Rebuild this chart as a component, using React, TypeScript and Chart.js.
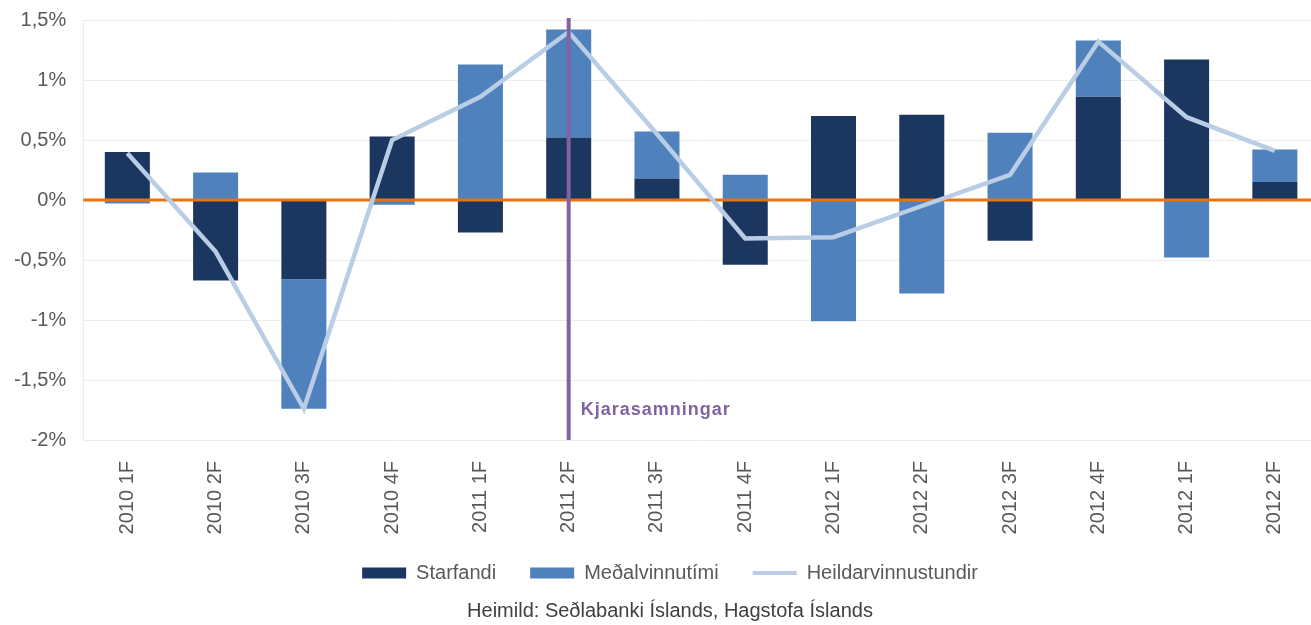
import React, { useEffect, useRef } from "react";
import { Chart, registerables } from "chart.js";

Chart.register(...registerables);

const categories = [
  "2010 1F", "2010 2F", "2010 3F", "2010 4F",
  "2011 1F", "2011 2F", "2011 3F", "2011 4F",
  "2012 1F", "2012 2F", "2012 3F", "2012 4F",
  "2012 1F", "2012 2F",
];
const starfandi = [0.4, -0.67, -0.66, 0.53, -0.27, 0.52, 0.18, -0.54, 0.7, 0.71, -0.34, 0.86, 1.17, 0.15];
const medalvinnutimi = [-0.03, 0.23, -1.08, -0.04, 1.13, 0.9, 0.39, 0.21, -1.01, -0.78, 0.56, 0.47, -0.48, 0.27];
const heildarvinnustundir = [0.39, -0.43, -1.74, 0.5, 0.86, 1.4, 0.55, -0.32, -0.31, -0.05, 0.21, 1.32, 0.69, 0.41];

const seriesNames = ["Starfandi", "Meðalvinnutími", "Heildarvinnustundir"];
const yTickValues = [-2, -1.5, -1, -0.5, 0, 0.5, 1, 1.5];
const yTickLabels = ["-2%", "-1,5%", "-1%", "-0,5%", "0%", "0,5%", "1%", "1,5%"];
const markerIndex = 5;
const markerLabel = "Kjarasamningar";
const sourceText = "Heimild: Seðlabanki Íslands, Hagstofa Íslands";

const FONT = "'Liberation Sans', Arial, sans-serif";
const DARK = "#1B3760";
const MID = "#4F81BD";
const LIGHT = "#B9CDE5";
const ORANGE = "#E8720C";
const PURPLE = "#8064A2";
const GRID = "#ECECEC";
const TEXT = "#595959";

const overlayPlugin = {
  id: "overlay",
  beforeDatasetDraw(chart: any, args: any) {
    if (args.index !== 2) return;
    const { ctx, chartArea, scales } = chart;
    const y = scales.y.getPixelForValue(0);
    ctx.save();
    ctx.strokeStyle = ORANGE;
    ctx.lineWidth = 3;
    ctx.beginPath();
    ctx.moveTo(chartArea.left, y);
    ctx.lineTo(chartArea.right, y);
    ctx.stroke();
    ctx.restore();
  },
  afterDatasetsDraw(chart: any) {
    const { ctx, chartArea, scales } = chart;
    const x = scales.x.getPixelForValue(markerIndex);
    ctx.save();
    ctx.strokeStyle = PURPLE;
    ctx.lineWidth = 4;
    ctx.beginPath();
    ctx.moveTo(x, chartArea.top - 2);
    ctx.lineTo(x, chartArea.bottom);
    ctx.stroke();
    ctx.fillStyle = PURPLE;
    ctx.font = `bold 18px ${FONT}`;
    try { (ctx as any).letterSpacing = "1px"; } catch (e) {}
    ctx.textAlign = "left";
    ctx.textBaseline = "middle";
    ctx.fillText(markerLabel, x + 12, chartArea.bottom - 30);
    ctx.restore();
  },
};

export default function App() {
  const ref = useRef<HTMLCanvasElement | null>(null);

  useEffect(() => {
    if (!ref.current) return;
    const chart = new Chart(ref.current, {
      type: "bar",
      data: {
        labels: categories,
        datasets: [
          {
            type: "bar",
            label: seriesNames[0],
            data: starfandi,
            backgroundColor: DARK,
            borderWidth: 0,
            stack: "bars",
            order: 2,
            categoryPercentage: 0.51,
            barPercentage: 1,
          },
          {
            type: "bar",
            label: seriesNames[1],
            data: medalvinnutimi,
            backgroundColor: MID,
            borderWidth: 0,
            stack: "bars",
            order: 2,
            categoryPercentage: 0.51,
            barPercentage: 1,
          },
          {
            type: "line",
            label: seriesNames[2],
            data: heildarvinnustundir,
            borderColor: LIGHT,
            backgroundColor: LIGHT,
            borderWidth: 4.5,
            pointRadius: 0,
            tension: 0,
            fill: false,
            stack: "line",
            order: 1,
          },
        ] as any,
      },
      options: {
        responsive: false,
        animation: false,
        layout: { padding: { top: 20, left: 21, right: 21, bottom: 0 } },
        scales: {
          x: {
            stacked: true,
            grid: { display: false, drawTicks: false },
            border: { display: false },
            ticks: {
              minRotation: 90,
              maxRotation: 90,
              padding: 21,
              color: TEXT,
              font: { family: FONT, size: 20 },
            },
            afterFit: (s: any) => {
              s.height = 89;
              s.paddingLeft = 0;
              s.paddingRight = 0;
              s._computeLabelArea = () => undefined;
            },
          },
          y: {
            stacked: true,
            min: -2,
            max: 1.5,
            grid: { color: GRID, lineWidth: 1, drawTicks: false },
            border: { display: true, color: GRID },
            afterBuildTicks: (s: any) => { s.ticks = yTickValues.map((v) => ({ value: v })); },
            ticks: {
              padding: 17,
              color: TEXT,
              font: { family: FONT, size: 20 },
              callback: (v: any) => {
                const i = yTickValues.findIndex((t) => Math.abs(t - Number(v)) < 1e-9);
                return i >= 0 ? yTickLabels[i] : "";
              },
            },
            afterFit: (s: any) => {
              s.width = 62.2;
              s.paddingTop = 0;
              s.paddingBottom = 0;
              s._computeLabelArea = () => undefined;
            },
          },
        },
        plugins: {
          tooltip: { enabled: false },
          legend: {
            position: "bottom",
            labels: {
              usePointStyle: true,
              pointStyleWidth: 44,
              boxWidth: 44,
              boxHeight: 11,
              padding: 34,
              color: TEXT,
              font: { family: FONT, size: 20 },
              generateLabels: (c: any) => {
                const base = (Chart.defaults as any).plugins.legend.labels.generateLabels(c);
                return base
                  .map((it: any) => {
                    const ds: any = c.data.datasets[it.datasetIndex];
                    if (ds.type === "line") {
                      return { ...it, pointStyle: "line", strokeStyle: LIGHT, fillStyle: LIGHT, lineWidth: 4 };
                    }
                    return { ...it, pointStyle: "rect", lineWidth: 0, strokeStyle: "rgba(0,0,0,0)" };
                  })
                  .sort((a: any, b: any) => a.datasetIndex - b.datasetIndex);
              },
            },
          },
          title: {
            display: true,
            text: sourceText,
            position: "bottom",
            color: "#404040",
            font: { family: FONT, size: 20, weight: "normal" },
            padding: { top: 6, bottom: 2 },
          },
        },
      } as any,
      plugins: [overlayPlugin],
    });
    return () => chart.destroy();
  }, []);

  return (
    <div
      style={{
        position: "fixed",
        left: 0,
        top: 0,
        width: 1311,
        height: 625,
        overflow: "hidden",
        background: "#fff",
      }}
    >
      <canvas ref={ref} width={1340} height={625} style={{ display: "block", width: 1340, height: 625 }} />
    </div>
  );
}
